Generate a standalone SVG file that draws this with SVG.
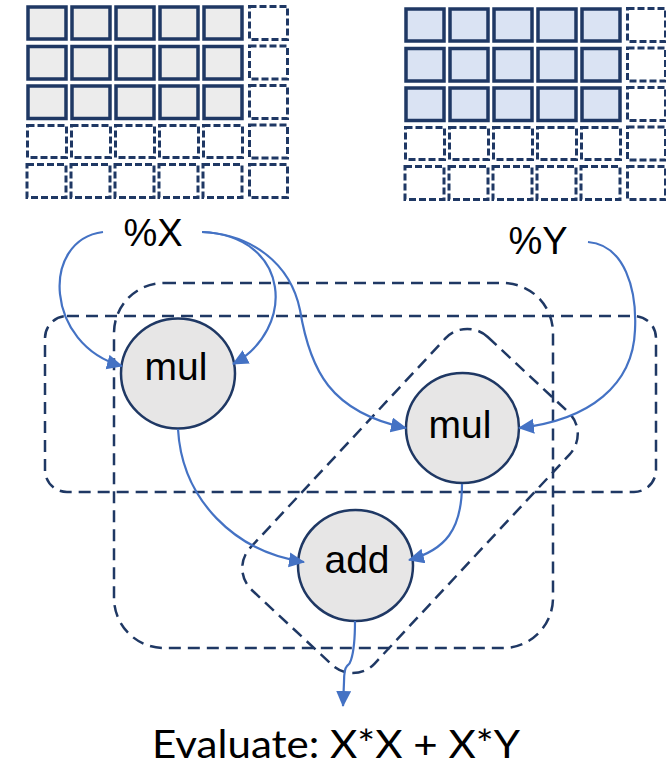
<svg xmlns="http://www.w3.org/2000/svg" width="666" height="767" viewBox="0 0 666 767">
  <defs>
    <style>
      .cell { fill: #ececec; stroke: #1f3864; stroke-width: 3.5; }
      .cellY { fill: #dae3f3; stroke: #1f3864; stroke-width: 3.5; }
      .pad { fill: #ffffff; stroke: #1f3864; stroke-width: 3; stroke-dasharray: 7 3; }
      .region { fill: none; stroke: #1f3864; stroke-width: 2.5; stroke-dasharray: 12 7; }
      .op { fill: #e7e6e6; stroke: #1f3864; stroke-width: 2.5; }
      .edge { fill: none; stroke: #4472c4; stroke-width: 2.2; marker-end: url(#arrow); }
      .lbl { font-family: "Liberation Sans", Arial, sans-serif; font-size: 39px; fill: #000; text-anchor: middle; }
      .var { font-family: "Liberation Sans", Arial, sans-serif; font-size: 38px; fill: #000; text-anchor: middle; }
      .caption { font-family: Lato, "Open Sans", sans-serif; font-size: 39px; fill: #000; text-anchor: middle; }
    </style>
    <marker id="arrow" markerUnits="userSpaceOnUse" markerWidth="17" markerHeight="16" refX="15" refY="7.5" orient="auto">
      <path d="M0,0 L16,7.5 L0,15 z" fill="#4472c4"/>
    </marker>
    <!-- one 6x5 tensor tile: 5x3 data cells, the rest padding -->
    <g id="tileX">
      <rect class="pad" x="249.5" y="6.5" width="38" height="33"/>
      <rect class="pad" x="249.5" y="46" width="38" height="33"/>
      <rect class="pad" x="249.5" y="85.5" width="38" height="33"/>
      <rect class="pad" x="249.5" y="125" width="38" height="33"/>
      <rect class="pad" x="249.5" y="164.5" width="38" height="33"/>
      <rect class="pad" x="27.5" y="125.5" width="39" height="32"/>
      <rect class="pad" x="71.5" y="125.5" width="39" height="32"/>
      <rect class="pad" x="115.5" y="125.5" width="39" height="32"/>
      <rect class="pad" x="159.5" y="125.5" width="39" height="32"/>
      <rect class="pad" x="203.5" y="125.5" width="39" height="32"/>
      <rect class="pad" x="27" y="164.5" width="39" height="33"/>
      <rect class="pad" x="71" y="164.5" width="39" height="33"/>
      <rect class="pad" x="115" y="164.5" width="39" height="33"/>
      <rect class="pad" x="159" y="164.5" width="39" height="33"/>
      <rect class="pad" x="203" y="164.5" width="39" height="33"/>
    </g>
  </defs>

  <rect width="666" height="767" fill="#ffffff"/>

  <!-- tensor X -->
  <g id="tensor-x">
    <use href="#tileX"/>
    <rect class="cell" x="28" y="7" width="38" height="32"/>
    <rect class="cell" x="72" y="7" width="38" height="32"/>
    <rect class="cell" x="116" y="7" width="38" height="32"/>
    <rect class="cell" x="160" y="7" width="38" height="32"/>
    <rect class="cell" x="204" y="7" width="38" height="32"/>
    <rect class="cell" x="28" y="46.5" width="38" height="32.5"/>
    <rect class="cell" x="72" y="46.5" width="38" height="32.5"/>
    <rect class="cell" x="116" y="46.5" width="38" height="32.5"/>
    <rect class="cell" x="160" y="46.5" width="38" height="32.5"/>
    <rect class="cell" x="204" y="46.5" width="38" height="32.5"/>
    <rect class="cell" x="28" y="86" width="38" height="32.5"/>
    <rect class="cell" x="72" y="86" width="38" height="32.5"/>
    <rect class="cell" x="116" y="86" width="38" height="32.5"/>
    <rect class="cell" x="160" y="86" width="38" height="32.5"/>
    <rect class="cell" x="204" y="86" width="38" height="32.5"/>
  </g>

  <!-- tensor Y -->
  <g id="tensor-y" transform="translate(378,2)">
    <use href="#tileX"/>
    <rect class="cellY" x="28" y="7" width="38" height="32"/>
    <rect class="cellY" x="72" y="7" width="38" height="32"/>
    <rect class="cellY" x="116" y="7" width="38" height="32"/>
    <rect class="cellY" x="160" y="7" width="38" height="32"/>
    <rect class="cellY" x="204" y="7" width="38" height="32"/>
    <rect class="cellY" x="28" y="46.5" width="38" height="32.5"/>
    <rect class="cellY" x="72" y="46.5" width="38" height="32.5"/>
    <rect class="cellY" x="116" y="46.5" width="38" height="32.5"/>
    <rect class="cellY" x="160" y="46.5" width="38" height="32.5"/>
    <rect class="cellY" x="204" y="46.5" width="38" height="32.5"/>
    <rect class="cellY" x="28" y="86" width="38" height="32.5"/>
    <rect class="cellY" x="72" y="86" width="38" height="32.5"/>
    <rect class="cellY" x="116" y="86" width="38" height="32.5"/>
    <rect class="cellY" x="160" y="86" width="38" height="32.5"/>
    <rect class="cellY" x="204" y="86" width="38" height="32.5"/>
  </g>

  <!-- fusion groups -->
  <g id="groups">
    <rect class="region" x="45" y="316" width="611" height="176" rx="22"/>
    <rect class="region" x="114" y="283" width="439" height="365" rx="50"/>
    <rect class="region" x="-85" y="-173" width="170" height="346" rx="30" transform="translate(410,501) rotate(43)"/>
  </g>

  <!-- inputs -->
  <g id="input-x"><text class="var" x="153" y="246">%X</text></g>
  <g id="input-y"><text class="var" x="538" y="254">%Y</text></g>

  <!-- operations -->
  <g id="mul-1">
    <ellipse class="op" cx="178" cy="373.5" rx="57" ry="55"/>
    <text class="lbl" x="176" y="380">mul</text>
  </g>
  <g id="mul-2">
    <ellipse class="op" cx="462.5" cy="428" rx="56.5" ry="55"/>
    <text class="lbl" x="460" y="438">mul</text>
  </g>
  <g id="add">
    <ellipse class="op" cx="355.5" cy="565.5" rx="57.5" ry="55.5"/>
    <text class="lbl" x="357" y="573">add</text>
  </g>

  <!-- data flow -->
  <g id="connectors">
    <path class="edge" d="M103,232 C40,240 45,345 122,366"/>
    <path class="edge" d="M202,232 C292,236 296,330 233,364"/>
    <path class="edge" d="M202,232 C250,234 290,262 300,310 C310,370 330,412 406,428"/>
    <path class="edge" d="M588,242 C625,245 637,290 635,330 C633,385 590,420 519,428"/>
    <path class="edge" d="M178,429 C182,500 235,552 304,562"/>
    <path class="edge" d="M462,484 C462,530 445,550 409,560"/>
    <path class="edge" d="M355,621 C355,640 353,654 351,660 Q350,664 347,666 Q344,669 344,682 L343,706"/>
  </g>

  <text class="caption" x="336" y="758" textLength="368" lengthAdjust="spacingAndGlyphs">Evaluate: X*X + X*Y</text>
</svg>
